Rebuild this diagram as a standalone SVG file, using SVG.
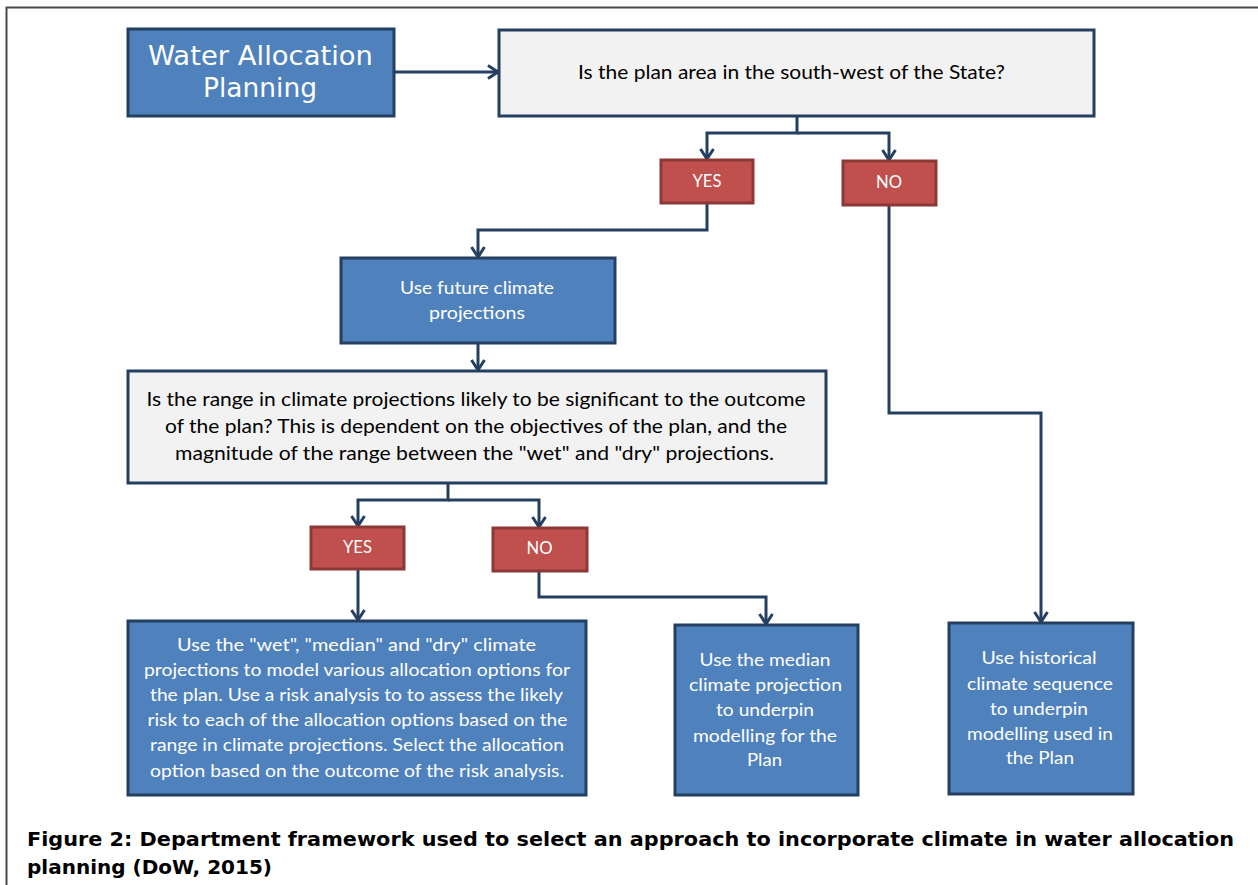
<svg xmlns="http://www.w3.org/2000/svg" width="1258" height="885" viewBox="0 0 1258 885">
<style>
.blue{fill:#4F81BD;stroke:#243F60;stroke-width:3}
.gray{fill:#F2F2F2;stroke:#243F60;stroke-width:3}
.red{fill:#C0504D;stroke:#8C3836;stroke-width:3}
.wt{fill:#FFFFFF;font-family:Lato,"Liberation Sans",sans-serif;font-size:18px;text-anchor:middle}
.bt{fill:#000000;font-family:Lato,"Liberation Sans",sans-serif;font-size:19px;text-anchor:middle}
.title{fill:#FFFFFF;font-family:"DejaVu Sans",sans-serif;font-size:27px;text-anchor:middle}
.cap{fill:#000000;font-family:"DejaVu Sans","Liberation Sans",sans-serif;font-weight:bold;font-size:20px}
.conn{fill:none;stroke:#243F60;stroke-width:3;stroke-linejoin:miter}
</style>
<defs>
<marker id="arr" markerUnits="userSpaceOnUse" viewBox="0 0 16 16" refX="14" refY="8" markerWidth="16" markerHeight="16" orient="auto">
<path d="M4,1.5 L14,8 L4,14.5" fill="none" stroke="#243F60" stroke-width="3"/>
</marker>
</defs>
<rect width="1258" height="885" fill="#FFFFFF"/>
<g id="frame">
<path d="M6.5,885 L6.5,7.5 L1258,7.5" fill="none" stroke="#4a4a4a" stroke-width="2"/>
</g>
<g id="connectors">
<path class="conn" d="M394,72 L498,72" marker-end="url(#arr)"/>
<path class="conn" d="M797,116 L797,133 L707,133 L707,159" marker-end="url(#arr)"/>
<path class="conn" d="M797,133 L889,133 L889,160" marker-end="url(#arr)"/>
<path class="conn" d="M707,203 L707,230 L478,230 L478,257" marker-end="url(#arr)"/>
<path class="conn" d="M478,343 L478,370" marker-end="url(#arr)"/>
<path class="conn" d="M448,483 L448,500 L358,500 L358,526" marker-end="url(#arr)"/>
<path class="conn" d="M448,500 L539,500 L539,527" marker-end="url(#arr)"/>
<path class="conn" d="M358,569 L358,620" marker-end="url(#arr)"/>
<path class="conn" d="M539,571 L539,597 L766,597 L766,624" marker-end="url(#arr)"/>
<path class="conn" d="M889,205 L889,413 L1041,413 L1041,622" marker-end="url(#arr)"/>
</g>
<g id="n-wap">
<rect class="blue" x="128" y="29" width="266" height="87"/>
<text class="title" x="260.5" y="65" textLength="225" lengthAdjust="spacingAndGlyphs">Water Allocation</text>
<text class="title" x="260" y="97" textLength="114" lengthAdjust="spacingAndGlyphs">Planning</text>
</g>
<g id="n-q1">
<rect class="gray" x="499" y="30" width="595" height="86"/>
<text class="bt" x="791.5" y="79" textLength="427" lengthAdjust="spacingAndGlyphs">Is the plan area in the south-west of the State?</text>
</g>
<g id="n-yes1">
<rect class="red" x="661" y="160" width="92" height="43"/>
<text class="wt" x="707" y="187" textLength="29" lengthAdjust="spacingAndGlyphs">YES</text>
</g>
<g id="n-no1">
<rect class="red" x="843" y="161" width="93" height="44"/>
<text class="wt" x="889" y="188" textLength="26" lengthAdjust="spacingAndGlyphs">NO</text>
</g>
<g id="n-future">
<rect class="blue" x="341" y="258" width="274" height="85"/>
<text class="wt" x="477" y="294" textLength="154" lengthAdjust="spacingAndGlyphs">Use future climate</text>
<text class="wt" x="477" y="319" textLength="96" lengthAdjust="spacingAndGlyphs">projections</text>
</g>
<g id="n-q2">
<rect class="gray" x="128" y="371" width="698" height="112"/>
<text class="bt" x="476" y="406" textLength="659" lengthAdjust="spacingAndGlyphs">Is the range in climate projections likely to be significant to the outcome</text>
<text class="bt" x="476" y="433" textLength="622" lengthAdjust="spacingAndGlyphs">of the plan? This is dependent  on the objectives of the plan, and the</text>
<text class="bt" x="474.5" y="460" textLength="599" lengthAdjust="spacingAndGlyphs">magnitude  of the range between the "wet" and "dry"  projections.</text>
</g>
<g id="n-yes2">
<rect class="red" x="311" y="527" width="93" height="42"/>
<text class="wt" x="357.5" y="553" textLength="29" lengthAdjust="spacingAndGlyphs">YES</text>
</g>
<g id="n-no2">
<rect class="red" x="493" y="528" width="94" height="43"/>
<text class="wt" x="539.5" y="554" textLength="26" lengthAdjust="spacingAndGlyphs">NO</text>
</g>
<g id="n-range">
<rect class="blue" x="128" y="621" width="458" height="174"/>
<text class="wt" x="356.5" y="651" textLength="359" lengthAdjust="spacingAndGlyphs">Use the "wet", "median" and "dry" climate</text>
<text class="wt" x="357" y="676" textLength="426" lengthAdjust="spacingAndGlyphs">projections to model various allocation options for</text>
<text class="wt" x="356.5" y="701" textLength="413" lengthAdjust="spacingAndGlyphs">the plan. Use a risk analysis to to assess the likely</text>
<text class="wt" x="357.5" y="726" textLength="420" lengthAdjust="spacingAndGlyphs">risk to each of the allocation options based on the</text>
<text class="wt" x="357" y="751" textLength="414" lengthAdjust="spacingAndGlyphs">range in climate projections. Select the allocation</text>
<text class="wt" x="357" y="777" textLength="414" lengthAdjust="spacingAndGlyphs">option based on the outcome of the risk analysis.</text>
</g>
<g id="n-median">
<rect class="blue" x="675" y="625" width="183" height="170"/>
<text class="wt" x="765" y="666" textLength="131" lengthAdjust="spacingAndGlyphs">Use the median</text>
<text class="wt" x="765.5" y="691" textLength="153" lengthAdjust="spacingAndGlyphs">climate projection</text>
<text class="wt" x="765" y="716" textLength="98" lengthAdjust="spacingAndGlyphs">to underpin</text>
<text class="wt" x="765" y="742" textLength="144" lengthAdjust="spacingAndGlyphs">modelling for the</text>
<text class="wt" x="764.5" y="766" textLength="35" lengthAdjust="spacingAndGlyphs">Plan</text>
</g>
<g id="n-historical">
<rect class="blue" x="949" y="623" width="184" height="171"/>
<text class="wt" x="1039" y="664" textLength="115" lengthAdjust="spacingAndGlyphs">Use historical</text>
<text class="wt" x="1040" y="690" textLength="146" lengthAdjust="spacingAndGlyphs">climate sequence</text>
<text class="wt" x="1039" y="715" textLength="98" lengthAdjust="spacingAndGlyphs">to underpin</text>
<text class="wt" x="1040" y="740" textLength="146" lengthAdjust="spacingAndGlyphs">modelling used in</text>
<text class="wt" x="1040" y="764" textLength="68" lengthAdjust="spacingAndGlyphs">the Plan</text>
</g>
<g id="caption">
<text class="cap" x="27" y="846" font-size="21" textLength="1207" lengthAdjust="spacingAndGlyphs">Figure 2: Department framework used to select an approach to incorporate climate in water allocation</text>
<text class="cap" x="27" y="874" font-size="21" textLength="245" lengthAdjust="spacingAndGlyphs">planning (DoW, 2015)</text>
</g>
</svg>
